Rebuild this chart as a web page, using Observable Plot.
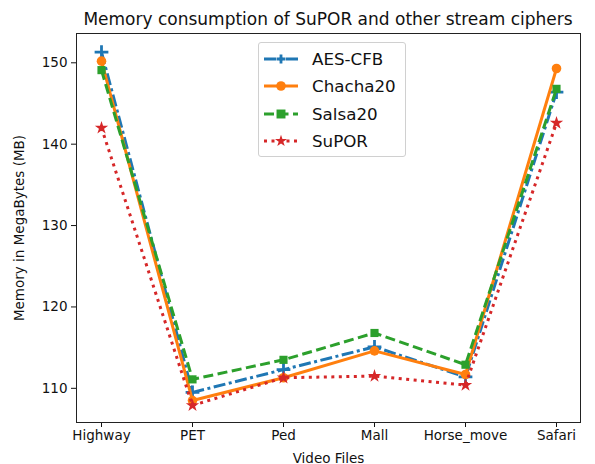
<!DOCTYPE html>
<html><head><meta charset="utf-8">
<script src="https://cdn.jsdelivr.net/npm/d3@7"></script>
<script src="https://cdn.jsdelivr.net/npm/@observablehq/plot@0.6"></script>
<style>
body{margin:0;background:#fff;font-family:"DejaVu Sans",sans-serif;}
#wrap{position:relative;width:595px;height:464px;}
#title{position:absolute;top:9px;left:76px;width:504px;text-align:center;font-size:17px;line-height:20px;color:#111;white-space:nowrap;}
#legend{position:absolute;left:258px;top:42px;width:148px;height:115px;border:1px solid #d0d0d0;border-radius:3px;background:rgba(255,255,255,0.85);box-sizing:border-box;padding-top:2px;}
.item{display:flex;align-items:center;height:27.5px;font-size:16.7px;color:#111;}
.item svg{margin-left:5px;margin-right:14px;}
</style>
</head><body>
<div id="wrap"><div id="title">Memory consumption of SuPOR and other stream ciphers</div><div id="legend"></div></div>
<script>
const videos = ["Highway","PET","Ped","Mall","Horse_move","Safari"];
const aesCfb  = [151.3, 109.5, 112.3, 115.1, 111.4, 146.4];
const chacha20 = [150.2, 108.5, 111.3, 114.6, 111.7, 149.3];
const salsa20  = [149.1, 111.1, 113.5, 116.8, 112.9, 146.8];
const supor    = [142.0, 107.9, 111.3, 111.5, 110.4, 142.6];
const yTicks = [110,120,130,140,150];

const series = [
  {name:"AES-CFB", values:aesCfb, color:"#1f77b4", dash:"12,3.5,3,3.5", symbol:"plus", r:4.5},
  {name:"Chacha20", values:chacha20, color:"#ff7f0e", dash:null, symbol:"circle", r:4.8},
  {name:"Salsa20", values:salsa20, color:"#2ca02c", dash:"10,4.5", symbol:"square", r:4.6},
  {name:"SuPOR", values:supor, color:"#d62728", dash:"3,4.5", symbol:"star", r:4.2}
];

const marks = [];
for (const s of series) {
  const data = videos.map((v,i)=>({video:v, value:s.values[i]}));
  marks.push(Plot.line(data, {x:"video", y:"value", stroke:s.color, strokeWidth:3, strokeDasharray:s.dash ?? undefined, strokeLinecap:"butt", strokeLinejoin:"round"}));
  if (s.symbol === "plus") {
    marks.push(Plot.dot(data, {x:"video", y:"value", symbol:"plus", stroke:s.color, strokeWidth:2.8, r:s.r}));
  } else {
    marks.push(Plot.dot(data, {x:"video", y:"value", symbol:s.symbol, fill:s.color, stroke:"none", r:s.r}));
  }
}
marks.push(Plot.frame({stroke:"#222", strokeWidth:1}));

const chart = Plot.plot({
  width:595, height:464,
  marginLeft:76, marginRight:15, marginTop:33, marginBottom:42,
  style:{fontFamily:"DejaVu Sans, sans-serif", fontSize:"13.5px", color:"#111", background:"transparent"},
  x:{type:"point", domain:videos, padding:0.25, label:"Video Files", labelAnchor:"center", labelOffset:40, tickSize:5, tickPadding:3},
  y:{domain:[105.8,153.6], ticks:yTicks, tickFormat:d=>String(d), label:"Memory in MegaBytes (MB)", labelAnchor:"center", labelOffset:62, labelArrow:"none", tickSize:5, tickPadding:4},
  marks
});
chart.style.position="absolute"; chart.style.left="0"; chart.style.top="0";
document.getElementById("wrap").prepend(chart);

// legend
const leg = document.getElementById("legend");
const symMap = {circle:d3.symbolCircle, square:d3.symbolSquare, star:d3.symbolStar};
for (const s of series) {
  const item = document.createElement("div"); item.className="item";
  const svg = d3.create("svg").attr("width",34).attr("height",14);
  svg.append("line").attr("x1",0).attr("x2",34).attr("y1",7).attr("y2",7)
    .attr("stroke",s.color).attr("stroke-width",3).attr("stroke-dasharray",s.dash).attr("stroke-linecap","butt");
  if (s.symbol==="plus") {
    svg.append("path").attr("d","M17,2.5V11.5M12.5,7H21.5").attr("stroke",s.color).attr("stroke-width",2.8).attr("fill","none");
  } else {
    const area = s.symbol==="circle" ? Math.PI*4.8*4.8 : s.symbol==="square" ? 80 : 45;
    svg.append("path").attr("d",d3.symbol(symMap[s.symbol], area)()).attr("transform","translate(17,7)").attr("fill",s.color);
  }
  item.appendChild(svg.node());
  const t = document.createElement("span"); t.textContent=s.name; item.appendChild(t);
  leg.appendChild(item);
}
</script>
</body></html>
